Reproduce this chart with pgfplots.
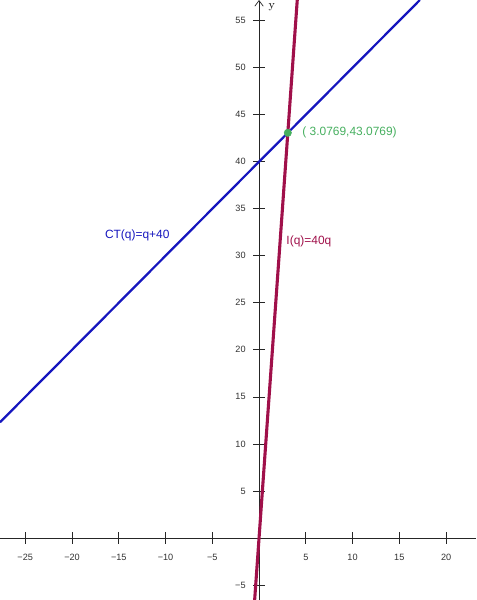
\documentclass[border=0pt]{standalone}
\usepackage{pgfplots}
\pgfplotsset{compat=1.18}
\usetikzlibrary{arrows.meta}
\usepackage{fontspec}
\newfontfamily\labelfont{Liberation Sans}
\definecolor{ctblue}{RGB}{22,22,190}
\definecolor{incred}{RGB}{160,16,74}
\definecolor{ptgreen}{RGB}{70,175,95}
\definecolor{tickgray}{RGB}{50,50,50}
\begin{document}
\begin{tikzpicture}
\begin{axis}[
  scale only axis,
  width=11.9cm, height=15cm,
  xmin=-27.7, xmax=23.2,
  ymin=-6.6, ymax=57.2,
  axis lines=middle,
  axis line style={black!85, line width=0.5pt},
  x axis line style={-},
  y axis line style={-{Straight Barb[length=4pt,width=6pt]}},
  xtick={-25,-20,...,20},
  xticklabels={−25,−20,−15,−10,−5,,5,10,15,20},
  ytick={-5,0,...,55},
  yticklabels={−5,,5,10,15,20,25,30,35,40,45,50,55},
  tick align=center,
  major tick length=8pt,
  tick style={black!85, line width=0.5pt},
  tick label style={font=\labelfont\fontsize{6.5}{7.5}\selectfont, text=tickgray},
  xticklabel style={yshift=-4pt},
  yticklabel style={xshift=-2pt},
  clip=false,
]
% cost line
\addplot[ctblue, line width=1.6pt] coordinates {(-27.7,12.3) (17.2,57.2)};
% income line
\addplot[incred, line width=2.2pt] coordinates {(-0.4714,-6.6) (4.0857,57.2)};
% break-even point
\addplot[only marks, mark=*, mark size=2.6pt, ptgreen] coordinates {(3.0769,43.0769)};

\node[anchor=west, inner sep=0pt, text=ptgreen, font=\labelfont\fontsize{8.5}{10}\selectfont]
  at (axis cs:4.6,43.1) {( 3.0769,43.0769)};
\node[anchor=west, inner sep=0pt, text=ctblue, font=\labelfont\fontsize{8.5}{10}\selectfont]
  at (axis cs:-16.5,32.2) {CT(q)=q+40};
\node[anchor=west, inner sep=0pt, text=incred, font=\labelfont\fontsize{8.5}{10}\selectfont]
  at (axis cs:2.9,31.5) {I(q)=40q};
\node[anchor=west, font=\fontsize{8}{9}\selectfont] at (axis cs:0.5,56.4) {y};
\end{axis}
\pgfresetboundingbox
\path (current axis.south west) rectangle (current axis.north east);
\end{tikzpicture}
\end{document}
